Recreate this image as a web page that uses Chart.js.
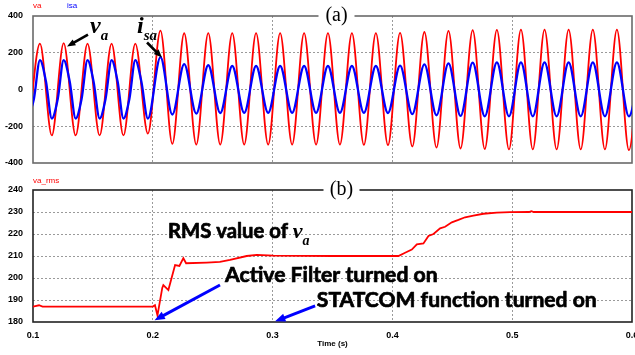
<!DOCTYPE html>
<html>
<head>
<meta charset="utf-8">
<title>va, isa and va_rms</title>
<script src="https://cdn.jsdelivr.net/npm/chart.js@4.4.0/dist/chart.umd.min.js"></script>
<style>
  body { margin: 0; background: #fff; width: 635px; height: 355px; overflow: hidden; position: relative; }
  canvas { position: absolute; left: 0; }
  #waveChart { top: 0; }
  #rmsChart { top: 168px; }
</style>
</head>
<body>
<canvas id="waveChart" width="635" height="168"></canvas>
<canvas id="rmsChart" width="635" height="187"></canvas>
<script>
// Times of the positive and negative peaks of va / isa (s)
const peakTimes = [0.1058, 0.1256, 0.1455, 0.1656, 0.1854, 0.2064, 0.2262, 0.2463, 0.2663, 0.2862,
  0.3063, 0.3263, 0.3462, 0.3662, 0.3862, 0.4064, 0.4267, 0.4468, 0.4670, 0.4872,
  0.5073, 0.5270, 0.5471, 0.5673, 0.5874, 0.6074];
const troughTimes = [0.0958, 0.1157, 0.1356, 0.1556, 0.1755, 0.1959, 0.2163, 0.2363, 0.2563, 0.2763,
  0.2963, 0.3163, 0.3363, 0.3562, 0.3762, 0.3963, 0.4166, 0.4368, 0.4569, 0.4771,
  0.4973, 0.5172, 0.5371, 0.5572, 0.5774, 0.5974];

// Source voltage va (V)
const vaPeaks = [250, 252, 250, 250, 250, 320, 306, 307, 307, 307, 307, 307, 307, 307, 307,
  308, 313, 319, 323, 325, 326, 326, 326, 326, 326, 326];
const vaTroughs = [-250, -250, -250, -250, -250, -240, -296, -300, -300, -300, -300, -300, -300,
  -300, -301, -303, -310, -316, -321, -324, -326, -326, -326, -326, -326, -330];

// Source current isa (A)
const isaPeaks = [160, 160, 160, 160, 160, 176, 138, 132, 128, 128, 128, 128, 128, 128, 128,
  130, 137, 142, 146, 148, 148, 148, 148, 148, 148, 148];
const isaTroughs = [-158, -158, -158, -158, -158, -158, -136, -131, -128, -127, -127, -127, -127,
  -127, -127, -128, -134, -140, -144, -146, -146, -146, -146, -146, -146, -146];
// Flat shoulders of the distorted current before compensation
const isaShoulderTimes = [0.1008, 0.1108, 0.1207, 0.1306, 0.1406, 0.1505, 0.1606, 0.1706, 0.1805, 0.1904];
const isaShoulders = [-50, 45, -50, 45, -50, 45, -50, 45, -50, 45];

// RMS value of va (V)
const rmsTimes = [0.1, 0.105, 0.108, 0.2, 0.2018, 0.2039, 0.2079, 0.2088, 0.213, 0.2186, 0.2222,
  0.2255, 0.2278, 0.245, 0.256, 0.2645, 0.2784, 0.2868, 0.3007, 0.35, 0.405, 0.4106, 0.4162,
  0.4204, 0.4259, 0.4301, 0.4343, 0.4398, 0.444, 0.4496, 0.4551, 0.4607, 0.4676, 0.476,
  0.4872, 0.4983, 0.514, 0.516, 0.518, 0.6];
const rmsValues = [187, 187.6, 187, 187, 187.6, 183, 195.5, 196.8, 194.5, 205.9, 205.5,
  209, 206.7, 207, 207.3, 208.2, 210, 210.5, 210.2, 210, 210, 211.5, 212.9,
  215.3, 215.7, 219.1, 220, 222.6, 223.3, 225.3, 226.4, 227.6, 228.3, 229.2,
  229.7, 229.9, 230, 230.4, 230, 230];

const timeTicks = [0.1, 0.2, 0.3, 0.4, 0.5, 0.6];
const waveTicks = [-400, -200, 0, 200, 400];
const rmsTicks = [180, 190, 200, 210, 220, 230, 240];

function wavePoints(peaks, troughs, extraT = [], extraV = []) {
  const pts = [];
  peakTimes.forEach((t, i) => pts.push({ x: t, y: peaks[i] }));
  troughTimes.forEach((t, i) => pts.push({ x: t, y: troughs[i] }));
  extraT.forEach((t, i) => pts.push({ x: t, y: extraV[i] }));
  return pts.sort((a, b) => a.x - b.x);
}

const tickFont = { family: 'Liberation Sans', size: 9, weight: 'bold' };

function timeAxis(showTicks) {
  return {
    type: 'linear', min: 0.1, max: 0.6,
    afterBuildTicks: s => { s.ticks = timeTicks.map(v => ({ value: v })); },
    afterFit: s => {
      s.paddingLeft = 0; s.paddingRight = 0;
      s.height = showTicks ? 27 : 5;
    },
    grid: {
      drawTicks: false,
      color: c => (c.tick && (c.tick.value === 0.1 || c.tick.value === 0.6)) ? 'rgba(0,0,0,0)' : '#9a9a9a',
      lineWidth: 1
    },
    border: { display: false, dash: [2, 2] },
    ticks: {
      display: showTicks, font: tickFont, color: '#000', padding: 8, maxRotation: 0,
      callback: v => v.toFixed(1)
    },
    title: {
      display: showTicks, text: 'Time (s)', color: '#000',
      font: { family: 'Liberation Sans', size: 8, weight: 'bold' }, padding: { top: 1, bottom: 0 }
    }
  };
}

function valueAxis(lo, hi, list) {
  return {
    type: 'linear', min: lo, max: hi,
    afterBuildTicks: s => { s.ticks = list.map(v => ({ value: v })); },
    afterFit: s => { s.width = 33; s.paddingTop = 0; s.paddingBottom = 0; },
    grid: {
      drawTicks: false,
      color: c => (c.tick && (c.tick.value === lo || c.tick.value === hi)) ? 'rgba(0,0,0,0)' : '#9a9a9a',
      lineWidth: 1
    },
    border: { display: false, dash: [2, 2] },
    ticks: { font: tickFont, color: '#000', padding: 10 }
  };
}

// Frame round the plot area, drawn under the traces
function framePlugin(color) {
  return {
    id: 'frame',
    beforeDatasetsDraw(chart) {
      const { ctx, chartArea: a } = chart;
      ctx.save();
      ctx.strokeStyle = color;
      ctx.lineWidth = 1.6;
      ctx.strokeRect(a.left, a.top, a.right - a.left, a.bottom - a.top);
      ctx.restore();
    }
  };
}

function panelTitle(chart, text, shift) {
  const { ctx, chartArea: a } = chart;
  const cx = (a.left + a.right) / 2 + shift;
  ctx.save();
  ctx.fillStyle = '#fff';
  ctx.fillRect(cx - 18, a.top - 3, 36, 6);
  ctx.font = '20px "Liberation Serif"';
  ctx.fillStyle = '#000';
  ctx.textAlign = 'center';
  ctx.fillText(text, cx, a.top + 5);
  ctx.restore();
}

function arrow(ctx, x1, y1, x2, y2, color, width, head) {
  const a = Math.atan2(y2 - y1, x2 - x1);
  ctx.save();
  ctx.strokeStyle = color;
  ctx.fillStyle = color;
  ctx.lineWidth = width;
  ctx.beginPath();
  ctx.moveTo(x1, y1);
  ctx.lineTo(x2 - head * 0.7 * Math.cos(a), y2 - head * 0.7 * Math.sin(a));
  ctx.stroke();
  ctx.beginPath();
  ctx.moveTo(x2, y2);
  ctx.lineTo(x2 - head * Math.cos(a - 0.38), y2 - head * Math.sin(a - 0.38));
  ctx.lineTo(x2 - head * Math.cos(a + 0.38), y2 - head * Math.sin(a + 0.38));
  ctx.closePath();
  ctx.fill();
  ctx.restore();
}

// italic symbol with a subscript, e.g. v_a
function symbol(ctx, x, y, main, sub, size) {
  ctx.save();
  ctx.fillStyle = '#000';
  ctx.textAlign = 'left';
  ctx.textBaseline = 'alphabetic';
  ctx.font = `italic bold ${size}px "Liberation Serif"`;
  ctx.fillText(main, x, y);
  const w = ctx.measureText(main).width;
  ctx.font = `italic bold ${Math.round(size * 0.62)}px "Liberation Serif"`;
  ctx.fillText(sub, x + w, y + size * 0.3);
  ctx.restore();
  return w;
}

// bold sans label squeezed to a given width, thickened a little
function label(ctx, text, x, y, width) {
  ctx.font = 'bold 20px Lato';
  const size = 20 * width / ctx.measureText(text).width;
  ctx.font = `bold ${size.toFixed(1)}px Lato`;
  ctx.fillStyle = '#000';
  ctx.strokeStyle = '#000';
  ctx.lineWidth = 0.7;
  ctx.lineJoin = 'round';
  ctx.textAlign = 'left';
  ctx.textBaseline = 'alphabetic';
  ctx.fillText(text, x, y);
  ctx.strokeText(text, x, y);
  return ctx.measureText(text + ' ').width;
}

const waveNotes = {
  id: 'waveNotes',
  afterDraw(chart) {
    const { ctx, chartArea: a, scales: { x, y } } = chart;
    ctx.save();
    ctx.font = '8px "Liberation Sans"';
    ctx.textBaseline = 'alphabetic';
    ctx.fillStyle = '#ff0000';
    ctx.fillText('va', a.left, a.top - 8);
    ctx.fillStyle = '#0000ff';
    ctx.fillText('isa', a.left + 34, a.top - 8);
    ctx.restore();

    symbol(ctx, x.getPixelForValue(0.1476), y.getPixelForValue(309), 'v', 'a', 24);
    arrow(ctx, x.getPixelForValue(0.1459), y.getPixelForValue(299),
      x.getPixelForValue(0.1284), y.getPixelForValue(234), '#000', 2.6, 9);
    symbol(ctx, x.getPixelForValue(0.1868), y.getPixelForValue(309), 'i', 'sa', 24);
    arrow(ctx, x.getPixelForValue(0.1952), y.getPixelForValue(256),
      x.getPixelForValue(0.2077), y.getPixelForValue(174), '#000', 2.6, 9);

    panelTitle(chart, '(a)', 4);
  }
};

const rmsNotes = {
  id: 'rmsNotes',
  afterDraw(chart) {
    const { ctx, chartArea: a, scales: { x, y } } = chart;
    ctx.save();
    ctx.font = '8px "Liberation Sans"';
    ctx.fillStyle = '#ff0000';
    ctx.fillText('va_rms', a.left, a.top - 7);

    const rx = x.getPixelForValue(0.2127);
    const w = label(ctx, 'RMS value of', rx, y.getPixelForValue(218), 120);
    symbol(ctx, rx + w, y.getPixelForValue(218), 'v', 'a', 22);
    label(ctx, 'Active Filter turned on', x.getPixelForValue(0.2603), y.getPixelForValue(198.2), 213);
    label(ctx, 'STATCOM function turned on', x.getPixelForValue(0.3369), y.getPixelForValue(187), 280);
    ctx.restore();

    arrow(ctx, x.getPixelForValue(0.2561), y.getPixelForValue(196.8),
      x.getPixelForValue(0.2015), y.getPixelForValue(180.8), '#0000ff', 3, 11);
    arrow(ctx, x.getPixelForValue(0.3355), y.getPixelForValue(187.3),
      x.getPixelForValue(0.3021), y.getPixelForValue(180.3), '#0000ff', 3, 11);

    panelTitle(chart, '(b)', 9);
  }
};

const common = {
  responsive: false,
  animation: false,
  events: [],
  elements: { point: { radius: 0 }, line: { cubicInterpolationMode: 'monotone' } },
  plugins: { legend: { display: false }, tooltip: { enabled: false } }
};

new Chart(document.getElementById('waveChart'), {
  type: 'line',
  data: {
    datasets: [
      { label: 'isa', data: wavePoints(isaPeaks, isaTroughs, isaShoulderTimes, isaShoulders),
        borderColor: '#0000ff', borderWidth: 2.3, order: 0 },
      { label: 'va', data: wavePoints(vaPeaks, vaTroughs),
        borderColor: '#ff0000', borderWidth: 1.8, order: 1 }
    ]
  },
  options: {
    ...common,
    layout: { padding: { left: 0, right: 3, top: 16, bottom: 0 } },
    scales: { x: timeAxis(false), y: valueAxis(-400, 400, waveTicks) }
  },
  plugins: [framePlugin('#6a6a6a'), waveNotes]
});

new Chart(document.getElementById('rmsChart'), {
  type: 'line',
  data: {
    datasets: [
      { label: 'va_rms', data: rmsTimes.map((t, i) => ({ x: t, y: rmsValues[i] })),
        borderColor: '#ff0000', borderWidth: 1.8, cubicInterpolationMode: 'default', tension: 0 }
    ]
  },
  options: {
    ...common,
    layout: { padding: { left: 0, right: 3, top: 22, bottom: 6 } },
    scales: { x: timeAxis(true), y: valueAxis(180, 240, rmsTicks) }
  },
  plugins: [framePlugin('#222'), rmsNotes]
});
</script>
</body>
</html>
